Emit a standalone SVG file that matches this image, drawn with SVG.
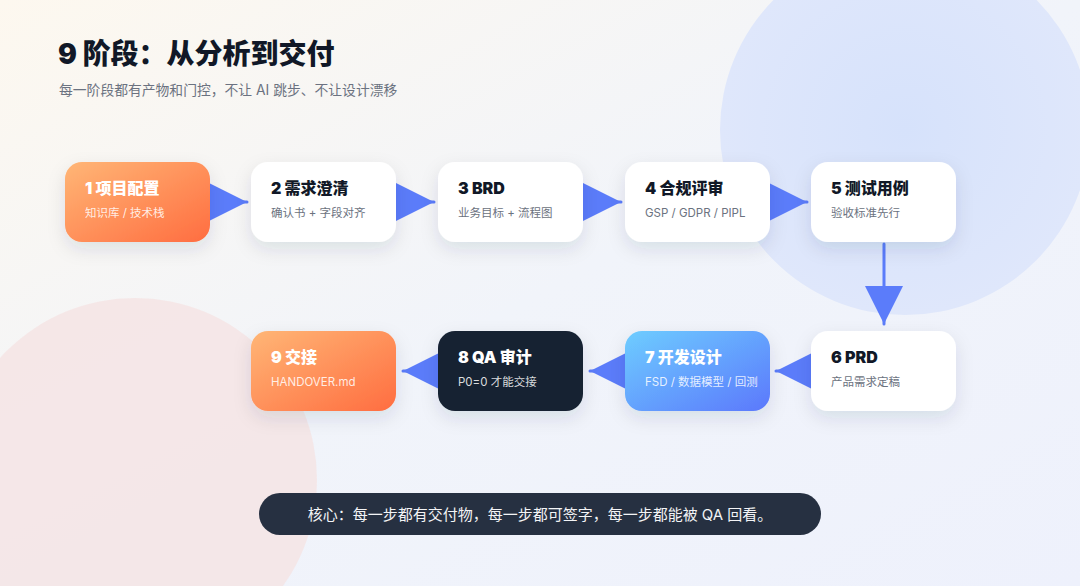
<svg xmlns="http://www.w3.org/2000/svg" width="1080" height="586" viewBox="0 0 1080 586">
<defs>
<linearGradient id="bg" x1="0" y1="0" x2="1" y2="1">
<stop offset="0" stop-color="#fdf8ef"/>
<stop offset="0.5" stop-color="#f1f4fa"/>
<stop offset="1" stop-color="#eef1fc"/>
</linearGradient>
<radialGradient id="blob1" cx="0.5" cy="0.5" r="0.5">
<stop offset="0" stop-color="#d6e2fb"/>
<stop offset="1" stop-color="#dfe7fb"/>
</radialGradient>
<linearGradient id="orange" x1="0" y1="0" x2="1" y2="1">
<stop offset="0" stop-color="#ffb676"/>
<stop offset="1" stop-color="#ff6d40"/>
</linearGradient>
<linearGradient id="blue" x1="0" y1="0" x2="1" y2="1">
<stop offset="0" stop-color="#6ecdff"/>
<stop offset="1" stop-color="#5b78fc"/>
</linearGradient>
<filter id="sh" x="-30%" y="-30%" width="160%" height="170%">
<feDropShadow dx="0" dy="7" stdDeviation="9" flood-color="#1e2a4a" flood-opacity="0.11"/>
</filter>
<marker id="tri" viewBox="0 0 10 10" refX="10" refY="5" markerWidth="12.7" markerHeight="12.7" orient="auto" markerUnits="strokeWidth">
<path d="M0,0 L10,5 L0,10 Z" fill="#5b7cfa"/>
</marker>
</defs>
<style>
.t{font-family:"Inter","Liberation Sans","Noto Sans CJK SC",sans-serif;font-weight:900;font-size:16px;fill:#111827}
.s{font-family:"Inter","Liberation Sans","Noto Sans CJK SC",sans-serif;font-size:11.5px;fill:#6b7280}
.w{fill:#ffffff}
.ws{fill:#ffffff;fill-opacity:0.85}
.card{fill:#ffffff}
.conn line{stroke:#5b7cfa;stroke-width:3;stroke-linecap:round;marker-end:url(#tri)}
</style>
<rect width="1080" height="586" fill="url(#bg)"/>
<circle cx="905" cy="130" r="185" fill="url(#blob1)"/>
<circle cx="135" cy="480" r="182" fill="#f5e4e3" fill-opacity="0.8"/>

<text x="58" y="64" font-family="Inter,'Liberation Sans','Noto Sans CJK SC',sans-serif" font-weight="900" font-size="28" fill="#111827">9 阶段：从分析到交付</text>
<text x="59" y="95" font-family="Inter,'Liberation Sans','Noto Sans CJK SC',sans-serif" font-size="13.8" fill="#6b7280">每一阶段都有产物和门控，不让 AI 跳步、不让设计漂移</text>

<g id="connectors" class="conn">
<line x1="210" y1="202" x2="247" y2="202"/>
<line x1="396" y1="202" x2="434" y2="202"/>
<line x1="583" y1="202" x2="621" y2="202"/>
<line x1="770" y1="202" x2="807" y2="202"/>
<line x1="884" y1="244" x2="884" y2="324"/>
<line x1="811" y1="371" x2="776" y2="371"/>
<line x1="625" y1="371" x2="590" y2="371"/>
<line x1="438" y1="371" x2="403" y2="371"/>
</g>

<g id="n1"><rect x="65" y="162" width="145" height="80" rx="17" fill="url(#orange)" filter="url(#sh)"/>
<text x="85" y="194" class="t w">1 项目配置</text><text x="85" y="217" class="s ws">知识库 / 技术栈</text></g>
<g id="n2"><rect x="251" y="162" width="145" height="80" rx="17" class="card" filter="url(#sh)"/>
<text x="271" y="194" class="t">2 需求澄清</text><text x="271" y="217" class="s">确认书 + 字段对齐</text></g>
<g id="n3"><rect x="438" y="162" width="145" height="80" rx="17" class="card" filter="url(#sh)"/>
<text x="458" y="194" class="t">3 BRD</text><text x="458" y="217" class="s">业务目标 + 流程图</text></g>
<g id="n4"><rect x="625" y="162" width="145" height="80" rx="17" class="card" filter="url(#sh)"/>
<text x="645" y="194" class="t">4 合规评审</text><text x="645" y="217" class="s">GSP / GDPR / PIPL</text></g>
<g id="n5"><rect x="811" y="162" width="145" height="80" rx="17" class="card" filter="url(#sh)"/>
<text x="831" y="194" class="t">5 测试用例</text><text x="831" y="217" class="s">验收标准先行</text></g>
<g id="n6"><rect x="811" y="331" width="145" height="80" rx="17" class="card" filter="url(#sh)"/>
<text x="831" y="363" class="t">6 PRD</text><text x="831" y="386" class="s">产品需求定稿</text></g>
<g id="n7"><rect x="625" y="331" width="145" height="80" rx="17" fill="url(#blue)" filter="url(#sh)"/>
<text x="645" y="363" class="t w">7 开发设计</text><text x="645" y="386" class="s ws">FSD / 数据模型 / 回测</text></g>
<g id="n8"><rect x="438" y="331" width="145" height="80" rx="17" fill="#172132" filter="url(#sh)"/>
<text x="458" y="363" class="t w">8 QA 审计</text><text x="458" y="386" class="s ws">P0=0 才能交接</text></g>
<g id="n9"><rect x="251" y="331" width="145" height="80" rx="17" fill="url(#orange)" filter="url(#sh)"/>
<text x="271" y="363" class="t w">9 交接</text><text x="271" y="386" class="s ws">HANDOVER.md</text></g>

<g id="core"><rect x="259" y="493" width="562" height="42" rx="21" fill="#263041"/>
<text x="540" y="520" text-anchor="middle" font-family="Inter,'Liberation Sans','Noto Sans CJK SC',sans-serif" font-size="15" fill="#f3f4f6">核心：每一步都有交付物，每一步都可签字，每一步都能被 QA 回看。</text></g>
</svg>
